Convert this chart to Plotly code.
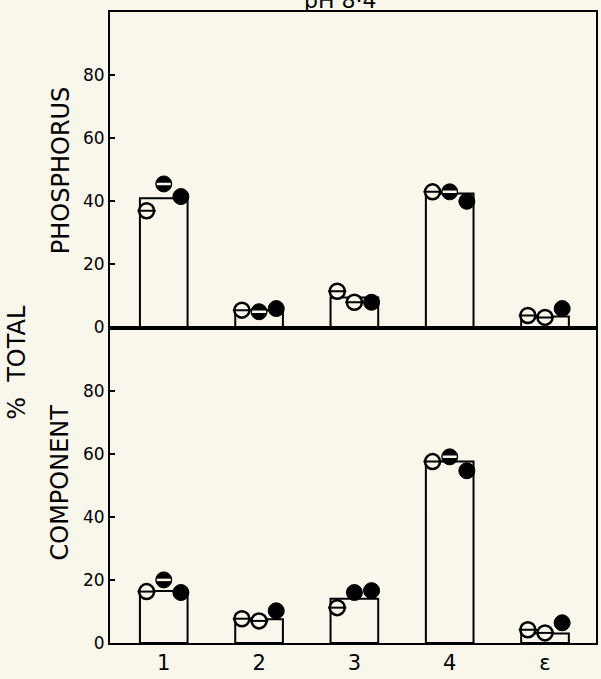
import plotly.graph_objects as go
from plotly.subplots import make_subplots

categories = ["1", "2", "3", "4", "ε"]

# bar heights (% total)
phos_bar = [41, 5.5, 9.5, 42.5, 3.5]
comp_bar = [16.5, 7.5, 14, 57.5, 3]

# individual replicate values (left, middle, right)
phos_left = [37, 5.5, 11.5, 43, 3.8]
phos_mid = [45.5, 5, 8, 43, 3.2]
phos_right = [41.5, 6, 8, 40, 6]

comp_left = [16.3, 7.7, 11.2, 57.5, 4.2]
comp_mid = [20, 7, 16, 59, 3.2]
comp_right = [16, 10.2, 16.6, 54.6, 6.4]

# styling of the middle replicate marker
phos_mid_style = ["half", "half", "open", "half", "open"]
comp_mid_style = ["half", "open", "filled", "half", "open"]

BG = "#f9f7ec"
FONT = "DejaVu Sans"
pos = list(range(len(categories)))
OFF = 0.18
MS = 16

fig = make_subplots(rows=2, cols=1, shared_xaxes=True, vertical_spacing=0)


def add_marks(row, left, mid, right, mid_style):
    def open_pts(xs, ys):
        fig.add_trace(go.Scatter(x=xs, y=ys, mode="markers", showlegend=False,
                                 marker=dict(symbol="circle", size=MS - 1, color=BG,
                                             line=dict(color="black", width=2.5))), row=row, col=1)
        fig.add_trace(go.Scatter(x=xs, y=ys, mode="markers", showlegend=False,
                                 marker=dict(symbol="line-ew", size=MS - 3,
                                             line=dict(color="black", width=2))), row=row, col=1)

    def filled_pts(xs, ys):
        fig.add_trace(go.Scatter(x=xs, y=ys, mode="markers", showlegend=False,
                                 marker=dict(symbol="circle", size=MS, color="black",
                                             line=dict(color="black", width=1))), row=row, col=1)

    def half_pts(xs, ys):
        filled_pts(xs, ys)
        fig.add_trace(go.Scatter(x=xs, y=ys, mode="markers", showlegend=False,
                                 marker=dict(symbol="line-ew", size=MS - 6,
                                             line=dict(color=BG, width=2.5))), row=row, col=1)

    open_pts([p - OFF for p in pos], left)
    filled_pts([p + OFF for p in pos], right)
    groups = {"open": open_pts, "filled": filled_pts, "half": half_pts}
    for kind, fn in groups.items():
        xs = [p for p, s in zip(pos, mid_style) if s == kind]
        ys = [v for v, s in zip(mid, mid_style) if s == kind]
        if xs:
            fn(xs, ys)


for row, bars in [(1, phos_bar), (2, comp_bar)]:
    fig.add_trace(go.Bar(x=pos, y=bars, width=0.5, showlegend=False,
                         marker=dict(color=BG, line=dict(color="black", width=2))),
                  row=row, col=1)

add_marks(1, phos_left, phos_mid, phos_right, phos_mid_style)
add_marks(2, comp_left, comp_mid, comp_right, comp_mid_style)

yax = dict(range=[0, 100], tickvals=[0, 20, 40, 60, 80], ticks="inside", ticklen=5,
           tickwidth=2, tickcolor="black", showline=True, linecolor="black", linewidth=2,
           mirror=True, showgrid=False, zeroline=False,
           tickfont=dict(family=FONT, size=17, color="black"))
fig.update_yaxes(**yax)
fig.update_yaxes(domain=[0.5, 1], row=1, col=1)
fig.update_yaxes(domain=[0, 0.5], row=2, col=1)

xax = dict(range=[-0.564, 4.535], tickvals=pos, ticktext=categories, ticks="",
           showline=True, linecolor="black", linewidth=2, mirror=True, showgrid=False,
           zeroline=False, tickfont=dict(family=FONT, size=21, color="black"))
fig.update_xaxes(**xax)
fig.update_xaxes(showticklabels=False, row=1, col=1)

lab = dict(xref="paper", yref="paper", textangle=-90, showarrow=False,
           xanchor="center", yanchor="middle",
           font=dict(family=FONT, size=24, color="black"))
fig.add_annotation(text="PHOSPHORUS", x=-0.102, y=0.75, **lab)
fig.add_annotation(text="COMPONENT", x=-0.102, y=0.255, **lab)
fig.add_annotation(text="%  TOTAL", x=-0.19, y=0.445, **lab)
fig.add_annotation(text="pH 8·4", x=0.475, y=1, xref="paper", yref="paper",
                   yanchor="bottom", yshift=-3, showarrow=False,
                   font=dict(family=FONT, size=22, color="black"))

fig.update_layout(width=601, height=679, paper_bgcolor=BG, plot_bgcolor=BG,
                  margin=dict(l=110, r=3, t=12, b=36), bargap=0.5, barmode="overlay")

fig.write_html("out.html", config={"displayModeBar": False},
               post_script="document.body.style.margin='0';document.body.style.background='" + BG + "';")
